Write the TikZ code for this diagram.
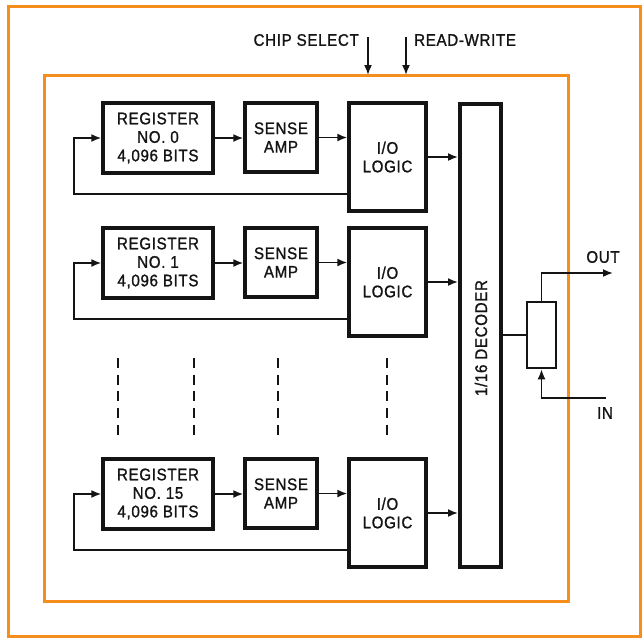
\documentclass[tikz,border=0pt]{standalone}
\usepackage{fontspec}
\setmainfont{Liberation Sans}[FakeStretch=0.9,LetterSpace=4,FakeBold=1.2]
\usetikzlibrary{arrows.meta}
\definecolor{frameorange}{RGB}{245,142,28}
\definecolor{ink}{RGB}{20,20,20}
\begin{document}
\begin{tikzpicture}[x=1pt,y=-1pt,
  txt/.style={font=\fontsize{16.8}{18.5}\selectfont, text=ink, inner sep=0pt, align=center},
  blk/.style={draw=ink, line width=3.4pt, txt},
  regbox/.style={blk, minimum width=110pt, minimum height=70pt},
  ampbox/.style={blk, minimum width=72pt, minimum height=69pt},
  iobox/.style={blk, minimum width=77pt, minimum height=108pt},
  wire/.style={draw=ink, line width=1.7pt},
  arr/.style={wire, -{Latex[length=10pt,width=8pt]}},
  orangeframe/.style={draw=frameorange, line width=3pt},
  dashcol/.style={draw=ink, line width=2pt, dash pattern=on 10pt off 6.7pt}
]
\useasboundingbox (0,0) rectangle (642,638);
% frames
\draw[orangeframe] (8,6) rectangle (640,636);
\draw[orangeframe] (44,75) rectangle (568,601);

% control inputs
\node[txt, anchor=east] (cs) at (359,40) {CHIP SELECT};
\node[txt, anchor=west] (rw) at (414,40) {READ-WRITE};
\coordinate (cs0) at (368,37);
\coordinate (cs1) at (368,75);
\coordinate (rw0) at (406,37);
\coordinate (rw1) at (406,75);
\draw[arr] (cs0) -- (cs1);
\draw[arr] (rw0) -- (rw1);

% decoder
\node[blk, line width=4pt, minimum width=41pt, minimum height=463pt] (dec) at (480.5,335.5) {};
\node[txt, rotate=90] (dectxt) at (481,338) {1/16 DECODER};

% rows
\foreach \r/\lab/\dy in {0/0/0, 1/1/125, 15/15/356} {
  \node[regbox] (r\r) at (158,138+\dy) {REGISTER\\NO. \lab\\4,096 BITS};
  \node[ampbox] (s\r) at (281,137.5+\dy) {SENSE\\AMP};
  \node[iobox] (io\r) at (387.5,157+\dy) {I/O\\LOGIC};
  \coordinate (fb\r) at (74,194+\dy);
  \draw[arr] (r\r.east) -- (r\r.east -| s\r.west);
  \draw[arr] (s\r.east) -- (s\r.east -| io\r.west);
  \draw[arr] (io\r.east) -- (io\r.east -| dec.west);
  \draw[arr] (io\r.west |- fb\r) -- (fb\r) |- (r\r.west);
}

% dashed continuation
\foreach \x/\n in {118/a,194/b,278/c,387/d} {
  \coordinate (d\n0) at (\x,358);
  \coordinate (d\n1) at (\x,436);
  \draw[dashcol] (d\n0) -- (d\n1);
}

% multiplexer / output stage
\node[draw=ink, line width=2.6pt, minimum width=29pt, minimum height=66pt, inner sep=0pt] (mux) at (541.5,335) {};
\draw[wire] (dec.east |- mux.west) -- (mux.west);
\coordinate (outend) at (613,273);
\coordinate (inend) at (606,398);
\draw[arr] (mux.north) |- (outend);
\draw[arr] (inend) -| (mux.south);
\node[txt, anchor=center] (outl) at (603,257) {OUT};
\node[txt, anchor=center] (inl) at (605,413) {IN};
\end{tikzpicture}
\end{document}
